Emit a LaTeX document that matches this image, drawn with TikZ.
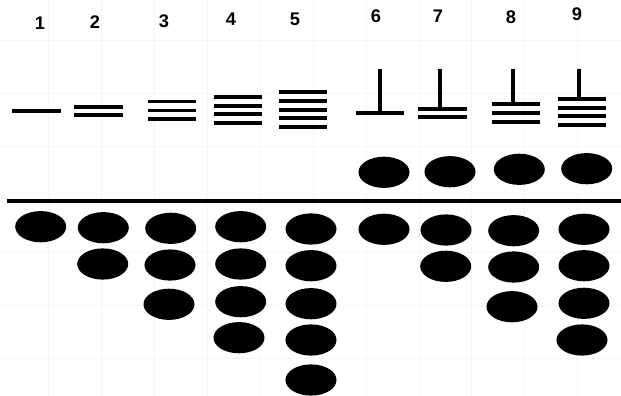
\documentclass[tikz,border=0pt]{standalone}
\usepackage{fontspec}
\setmainfont{Liberation Sans}
\usetikzlibrary{shapes.geometric}

\begin{document}
\begin{tikzpicture}[
    x=0.025cm, y=-0.025cm,
    bead/.style={ellipse, fill=black, inner sep=0pt, minimum width=1.275cm, minimum height=0.78cm},
    rod/.style={line width=2.7pt},
    digit/.style={font=\fontsize{13}{15}\selectfont\bfseries},
    faint/.style={draw=black!4, line width=0.4pt}
]

\useasboundingbox (0,0) rectangle (621,396);

% Background grid
\foreach \gx in {48,101,154,207,260,313,366,419,471,524,577}
    \draw[faint] (\gx,0) -- (\gx,396);
\foreach \gy in {40,93,146,198,252,305,358}
    \draw[faint] (0,\gy) -- (621,\gy);

% Numbers
\node[digit] (n1) at (40,23) {1};
\node[digit] (n2) at (95,22) {2};
\node[digit] (n3) at (164,21) {3};
\node[digit] (n4) at (231,19) {4};
\node[digit] (n5) at (295,19) {5};
\node[digit] (n6) at (376,16) {6};
\node[digit] (n7) at (438,16) {7};
\node[digit] (n8) at (511,17) {8};
\node[digit] (n9) at (577,14) {9};

% Strokes 1 to 5
\draw[rod] (12,110.7) -- (61,110.7);
\foreach \sy in {106.7,114.7}
    \draw[rod] (74,\sy) -- (123,\sy);
\foreach \sy in {101.5,110.5,119}
    \draw[rod] (148,\sy) -- (196,\sy);
\foreach \sy in {96.7,105.7,113.7,122.7}
    \draw[rod] (214,\sy) -- (262,\sy);
\foreach \sy in {92,100.7,109.7,117.7,126.7}
    \draw[rod] (279,\sy) -- (327,\sy);

% Strokes 6 to 9
\draw[rod] (379.7,68.7) -- (379.7,113);
\draw[rod] (356,113) -- (404,113);
\draw[rod] (440,68.7) -- (440,108.7);
\foreach \sy in {108.7,117}
    \draw[rod] (418.3,\sy) -- (466.7,\sy);
\draw[rod] (512.7,68.7) -- (512.7,104);
\foreach \sy in {104,112.7,121.7}
    \draw[rod] (491.7,\sy) -- (540,\sy);
\draw[rod] (579.3,68.7) -- (579.3,99);
\foreach \sy in {99,108,116.3,125.3}
    \draw[rod] (557.7,\sy) -- (606,\sy);

% Upper beads
\node[bead] (u6) at (384,172.3) {};
\node[bead] (u7) at (450,171.7) {};
\node[bead] (u8) at (519.3,169.3) {};
\node[bead] (u9) at (586.7,168.7) {};

% Beam
\draw[rod] (7,201) -- (621,201);

% Lower beads
\foreach \bx/\by [count=\i] in {
    40.7/226.7,
    103.3/227.7, 102.7/264,
    170.7/228.3, 170/265, 169/304.3,
    240.7/226.7, 240.7/264, 240.7/301.7, 239/337.7,
    311/229, 311/265.7, 311/303.7, 311/340, 311/380,
    384/229.3,
    446/230, 445.7/266.3,
    513.7/230.7, 513.7/267, 512/306.7,
    584/229.3, 584/265.7, 584/303.3, 582/340}
    \node[bead] (b\i) at (\bx,\by) {};

\end{tikzpicture}
\end{document}
